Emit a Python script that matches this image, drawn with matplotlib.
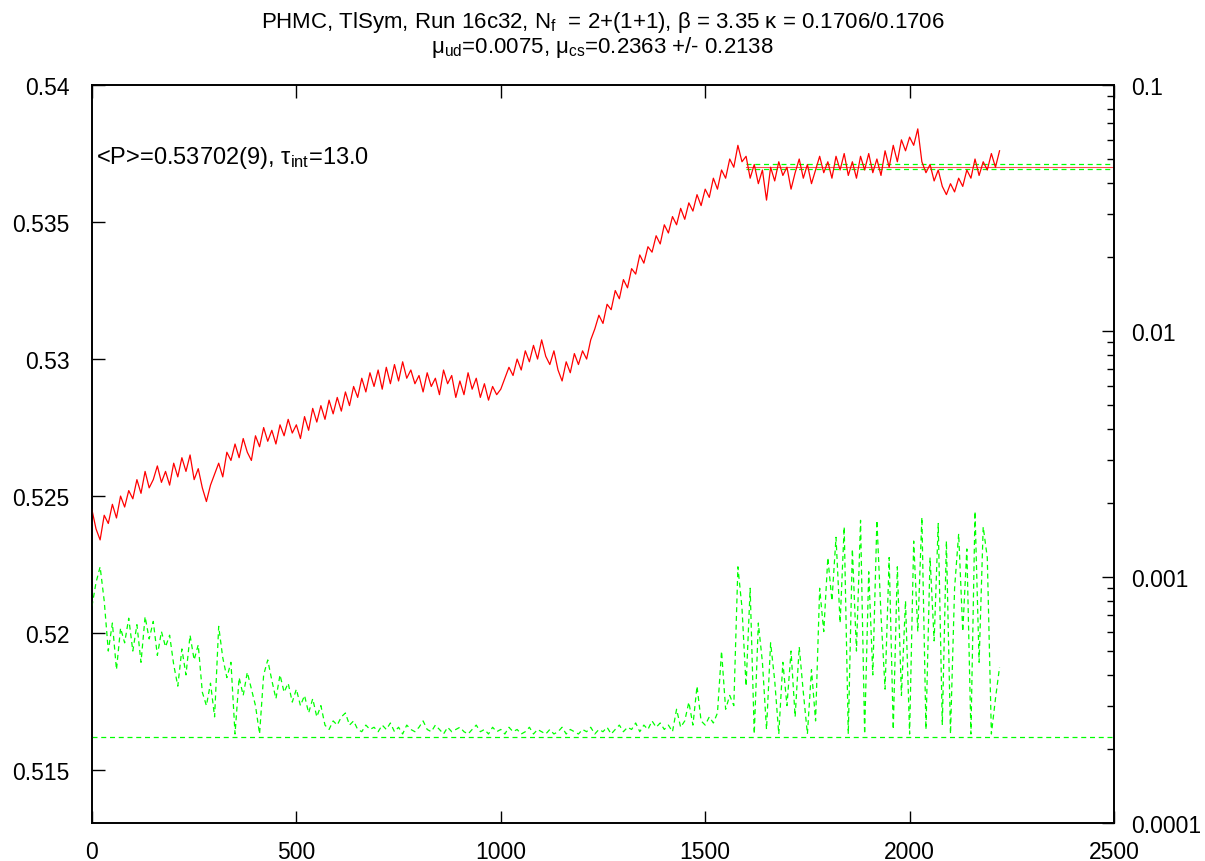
import matplotlib
matplotlib.use("Agg")
import matplotlib.pyplot as plt
import numpy as np
from matplotlib.ticker import FixedLocator, FuncFormatter, LogLocator, NullFormatter

plt.rcParams["font.family"] = ["Liberation Sans", "DejaVu Sans"]
plt.rcParams["mathtext.fontset"] = "custom"
plt.rcParams["mathtext.rm"] = "Liberation Sans"
plt.rcParams["mathtext.it"] = "Liberation Sans:italic"

# trajectory sampled every 10 steps
step = 10
plaquette = [
    0.5245, 0.5238, 0.5234, 0.5243, 0.5240, 0.5247, 0.5242, 0.5250, 0.5246, 0.5252,
    0.5249, 0.5256, 0.5251, 0.5259, 0.5253, 0.5256, 0.5261, 0.5255, 0.5259, 0.5254,
    0.5262, 0.5257, 0.5264, 0.5259, 0.5265, 0.5256, 0.5260, 0.5253, 0.5248, 0.5254,
    0.5258, 0.5262, 0.5257, 0.5266, 0.5263, 0.5269, 0.5264, 0.5271, 0.5266, 0.5263,
    0.5272, 0.5268, 0.5275, 0.5270, 0.5274, 0.5269, 0.5276, 0.5272, 0.5278, 0.5273,
    0.5276, 0.5271, 0.5279, 0.5274, 0.5282, 0.5277, 0.5283, 0.5278, 0.5285, 0.5280,
    0.5286, 0.5281, 0.5288, 0.5283, 0.5290, 0.5286, 0.5293, 0.5288, 0.5295, 0.5290,
    0.5296, 0.5289, 0.5297, 0.5291, 0.5298, 0.5292, 0.5299, 0.5293, 0.5296, 0.5291,
    0.5294, 0.5288, 0.5295, 0.5290, 0.5293, 0.5287, 0.5296, 0.5291, 0.5294, 0.5286,
    0.5292, 0.5287, 0.5295, 0.5289, 0.5293, 0.5286, 0.5291, 0.5285, 0.5290, 0.5287,
    0.5289, 0.5293, 0.5297, 0.5294, 0.5300, 0.5296, 0.5303, 0.5299, 0.5305, 0.5300,
    0.5307, 0.5301, 0.5298, 0.5303, 0.5296, 0.5292, 0.5299, 0.5295, 0.5302, 0.5298,
    0.5303, 0.5300, 0.5307, 0.5311, 0.5316, 0.5313, 0.5320, 0.5318, 0.5325, 0.5322,
    0.5329, 0.5326, 0.5333, 0.5331, 0.5338, 0.5335, 0.5341, 0.5339, 0.5345, 0.5342,
    0.5349, 0.5346, 0.5352, 0.5349, 0.5355, 0.5351, 0.5357, 0.5354, 0.5360, 0.5356,
    0.5362, 0.5359, 0.5366, 0.5362, 0.5369, 0.5366, 0.5373, 0.5370, 0.5378, 0.5372,
    0.5374, 0.5366, 0.5371, 0.5364, 0.5369, 0.5358, 0.5370, 0.5365, 0.5372, 0.5367,
    0.5370, 0.5362, 0.5368, 0.5373, 0.5366, 0.5371, 0.5364, 0.5369, 0.5374, 0.5368,
    0.5372, 0.5366, 0.5374, 0.5369, 0.5375, 0.5367, 0.5372, 0.5366, 0.5374, 0.5369,
    0.5375, 0.5368, 0.5373, 0.5367, 0.5376, 0.5370, 0.5378, 0.5372, 0.5380, 0.5376,
    0.5381, 0.5378, 0.5384, 0.5372, 0.5368, 0.5371, 0.5365, 0.5369, 0.5363, 0.5360,
    0.5364, 0.5361, 0.5366, 0.5363, 0.5369, 0.5366, 0.5373, 0.5367, 0.5372, 0.5369,
    0.5375, 0.5370, 0.5376,
]
lambda_min = [
    7.6e-4, 9.5e-4, 1.1e-3, 8.0e-4, 5.0e-4, 6.5e-4, 4.2e-4, 6.2e-4, 5.4e-4, 6.8e-4,
    5.0e-4, 6.4e-4, 4.5e-4, 6.9e-4, 5.6e-4, 6.6e-4, 4.8e-4, 6.0e-4, 5.2e-4, 5.8e-4,
    4.4e-4, 3.6e-4, 5.1e-4, 4.0e-4, 5.8e-4, 4.6e-4, 5.3e-4, 3.4e-4, 3.0e-4, 3.7e-4,
    2.7e-4, 6.3e-4, 4.7e-4, 3.9e-4, 4.5e-4, 2.3e-4, 3.9e-4, 3.3e-4, 4.1e-4, 3.5e-4,
    3.0e-4, 2.3e-4, 4.0e-4, 4.6e-4, 3.8e-4, 3.2e-4, 4.0e-4, 3.4e-4, 3.7e-4, 3.1e-4,
    3.5e-4, 3.0e-4, 3.3e-4, 2.8e-4, 3.2e-4, 2.7e-4, 3.0e-4, 2.5e-4, 2.4e-4, 2.6e-4,
    2.5e-4, 2.7e-4, 2.8e-4, 2.5e-4, 2.6e-4, 2.4e-4, 2.35e-4, 2.5e-4, 2.4e-4, 2.45e-4,
    2.35e-4, 2.5e-4, 2.4e-4, 2.55e-4, 2.35e-4, 2.45e-4, 2.3e-4, 2.5e-4, 2.4e-4, 2.35e-4,
    2.45e-4, 2.6e-4, 2.4e-4, 2.35e-4, 2.5e-4, 2.4e-4, 2.3e-4, 2.45e-4, 2.35e-4, 2.4e-4,
    2.45e-4, 2.35e-4, 2.3e-4, 2.4e-4, 2.5e-4, 2.35e-4, 2.4e-4, 2.3e-4, 2.45e-4, 2.35e-4,
    2.4e-4, 2.3e-4, 2.45e-4, 2.35e-4, 2.4e-4, 2.3e-4, 2.35e-4, 2.45e-4, 2.3e-4, 2.4e-4,
    2.35e-4, 2.3e-4, 2.4e-4, 2.3e-4, 2.35e-4, 2.45e-4, 2.3e-4, 2.4e-4, 2.35e-4, 2.3e-4,
    2.4e-4, 2.35e-4, 2.45e-4, 2.3e-4, 2.4e-4, 2.35e-4, 2.45e-4, 2.3e-4, 2.4e-4, 2.5e-4,
    2.35e-4, 2.45e-4, 2.4e-4, 2.55e-4, 2.35e-4, 2.5e-4, 2.4e-4, 2.6e-4, 2.45e-4, 2.55e-4,
    2.4e-4, 2.5e-4, 2.35e-4, 2.9e-4, 2.45e-4, 2.6e-4, 3.1e-4, 2.5e-4, 3.6e-4, 2.6e-4,
    2.5e-4, 2.7e-4, 2.55e-4, 2.8e-4, 5.0e-4, 2.9e-4, 3.3e-4, 3.0e-4, 1.1e-3, 7.5e-4,
    3.6e-4, 9.0e-4, 2.3e-4, 6.5e-4, 4.5e-4, 2.4e-4, 5.4e-4, 3.8e-4, 2.3e-4, 4.5e-4,
    3.0e-4, 5.0e-4, 2.7e-4, 5.2e-4, 3.4e-4, 2.3e-4, 4.2e-4, 2.6e-4, 9.0e-4, 6.0e-4,
    1.2e-3, 8.0e-4, 1.45e-3, 6.5e-4, 1.6e-3, 2.3e-4, 1.3e-3, 5.0e-4, 1.7e-3, 2.3e-4,
    1.05e-3, 4.0e-4, 1.7e-3, 7.0e-4, 3.5e-4, 1.2e-3, 2.4e-4, 1.1e-3, 3.3e-4, 8.0e-4,
    2.3e-4, 1.4e-3, 6.0e-4, 1.75e-3, 2.4e-4, 1.2e-3, 5.5e-4, 1.65e-3, 2.5e-4, 1.4e-3,
    2.3e-4, 9.0e-4, 1.5e-3, 6.0e-4, 1.3e-3, 2.3e-4, 1.85e-3, 4.5e-4, 1.6e-3, 1.2e-3,
    2.3e-4, 3.2e-4, 4.3e-4,
]
lambda_floor = 2.24e-4
p_mean, p_err = 0.53702, 0.00009
therm_start = 1600
x_max = 2500

traj = np.arange(len(plaquette)) * step

fig = plt.figure(figsize=(12.05, 8.62), dpi=100)
ax = fig.add_axes([0.0763, 0.0441, 0.8482, 0.8561])
ax2 = ax.twinx()

ax.plot(traj, plaquette, color="#ff0000", lw=0.9, zorder=3)
ax.plot([therm_start, x_max], [p_mean, p_mean], color="#ff0000", lw=0.8, alpha=0.7)
for v in (p_mean - p_err, p_mean + p_err):
    ax.plot([therm_start, x_max], [v, v], color="#00ff00", lw=0.9, ls=(0, (4, 3)))

ax2.plot(traj, lambda_min, color="#00ff00", lw=0.9, ls=(0, (4, 3)))
ax2.plot([0, x_max], [lambda_floor, lambda_floor], color="#00ff00", lw=0.9,
         ls=(0, (4, 3)))
ax2.set_yscale("log")
ax2.set_ylim(1e-4, 0.1)
ax2.yaxis.set_major_locator(FixedLocator([1e-4, 1e-3, 1e-2, 1e-1]))
ax2.yaxis.set_minor_locator(LogLocator(base=10, subs=np.arange(2, 10)))
ax2.yaxis.set_minor_formatter(NullFormatter())
ax2.yaxis.set_major_formatter(FuncFormatter(lambda v, _: f"{v:g}"))

ax.set_xlim(0, x_max)
ax.set_ylim(0.51307, 0.54)
ax.set_xticks(np.arange(0, 2501, 500))
ax.set_yticks([0.515, 0.52, 0.525, 0.53, 0.535, 0.54])
ax.yaxis.set_major_formatter(FuncFormatter(lambda v, _: f"{v:g}"))

ax.tick_params(axis="x", direction="in", length=9, width=1, top=True,
               labelsize=16.5, pad=12)
ax.tick_params(axis="y", direction="in", length=9, width=1, labelsize=16.5, pad=16)
ax2.tick_params(axis="y", which="major", direction="in", length=9, width=1,
                labelsize=16.5, pad=12)
ax2.tick_params(axis="y", which="minor", direction="in", length=5, width=1)
for a in (ax, ax2):
    for sp in a.spines.values():
        sp.set_linewidth(1.2)

ax.text(0.004, 0.902, "<P>=0.53702(9), τ$_{\\mathrm{int}}$=13.0",
        transform=ax.transAxes, fontsize=17, va="center", ha="left")

fig.text(0.5, 0.988,
         "PHMC, TlSym, Run 16c32, N$_{\\mathrm{f}}$  = 2+(1+1), "
         "β = 3.35 κ = 0.1706/0.1706\n"
         "μ$_{\\mathrm{ud}}$=0.0075, μ$_{\\mathrm{cs}}$=0.2363 +/- 0.2138",
         ha="center", va="top", fontsize=16, linespacing=1.0)

fig.savefig("out.png", dpi=100)
